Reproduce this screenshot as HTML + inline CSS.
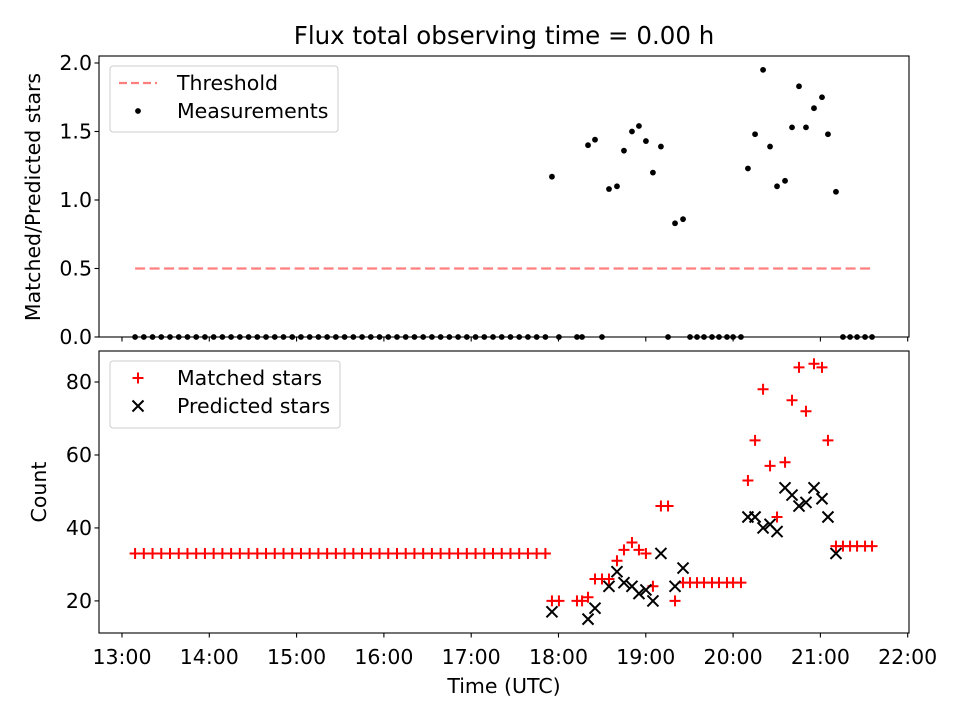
<!DOCTYPE html>
<html><head><meta charset="utf-8"><style>
body{margin:0;background:#fff;}
text{font-family:"DejaVu Sans","Liberation Sans",sans-serif;fill:#000;}
</style></head><body>
<svg id="chart" width="960" height="720" xmlns="http://www.w3.org/2000/svg">
<text x="504" y="44" font-size="24.5" text-anchor="middle">Flux total observing time = 0.00 h</text>
<g id="topPanel"></g>
<g id="botPanel"></g>
</svg>
<script>
// times in minutes after 13:00 UTC
const baseTimes=[9,15,21,27,33,39,45,51,57,63,69,75,81,87,93,99,105,111,117,123,129,135,141,147,153,159,165,171,177,183,189,195,201,207,213,219,225,231,237,243,249,255,261,267,273,279,285,291];
const laterTimes=[295.5,300.3,312.7,316.2,320.3,325.1,329.9,334.7,340.2,345,350.5,355.3,360.1,364.9,370.4,375.3,380.1,385.6,390.4,395.2,400,405.5,410.3,415.8,420,425.4,430.2,435.1,440.6,445.4,450.2,455.7,460.5,465.3,470.1,475.6,481.1,485.2,490.7,495.5,500.4,505.2,510.7,515.5];
const baseRatio=[0,0,0,0,0,0,0,0,0,0,0,0,0,0,0,0,0,0,0,0,0,0,0,0,0,0,0,0,0,0,0,0,0,0,0,0,0,0,0,0,0,0,0,0,0,0,0,0];
const baseMatched=[33,33,33,33,33,33,33,33,33,33,33,33,33,33,33,33,33,33,33,33,33,33,33,33,33,33,33,33,33,33,33,33,33,33,33,33,33,33,33,33,33,33,33,33,33,33,33,33];
const laterRatio=[1.17,0,0,0,1.40,1.44,0,1.08,1.10,1.36,1.50,1.54,1.43,1.20,1.39,0,0.83,0.86,0,0,0,0,0,0,0,0,1.23,1.48,1.95,1.39,1.10,1.14,1.53,1.83,1.53,1.67,1.75,1.48,1.06,0,0,0,0,0];
const laterMatched=[20,20,20,20,21,26,26,26,31,34,36,34,33,24,46,46,20,25,25,25,25,25,25,25,25,25,53,64,78,57,43,58,75,84,72,85,84,64,35,35,35,35,35,35];
const laterPredicted=[17,null,null,null,15,18,null,24,28,25,24,22,23,20,33,null,24,29,null,null,null,null,null,null,null,null,43,43,40,41,39,51,49,46,47,51,48,43,33,null,null,null,null,null];
const threshold=0.5;
const threshRange=[9,515.5];
const xTicks=[0,60,120,180,240,300,360,420,480,540];
const xTickLabels=["13:00","14:00","15:00","16:00","17:00","18:00","19:00","20:00","21:00","22:00"];
const topTicks=[0,0.5,1.0,1.5,2.0];
const botTicks=[20,40,60,80];

const NS="http://www.w3.org/2000/svg";
const L=99,R=909;
const xMin=-15.8,xMax=540.9;
const sx=t=>L+(t-xMin)/(xMax-xMin)*(R-L);
const T1=56,B1=337,T2=351,B2=633;
const syT=v=>B1-(v-0)/(2.051-0)*(B1-T1);
const syB=v=>B2-(v-11.2)/(88.5-11.2)*(B2-T2);
function mk(p,tag,a){const e=document.createElementNS(NS,tag);for(const k in a)e.setAttribute(k,a[k]);p.appendChild(e);return e;}
const topG=document.getElementById('topPanel'),botG=document.getElementById('botPanel');
const times=baseTimes.concat(laterTimes);
const ratio=baseRatio.concat(laterRatio);
const matched=baseMatched.concat(laterMatched);
const predicted=baseTimes.map(()=>null).concat(laterPredicted);
const FS='20.5';

function axes(g,T,B,sy,ticks,fmt,labels){
  xTicks.forEach((t,i)=>{const x=sx(t);
    const tk=mk(g,'line',{x1:x,x2:x,y1:B,y2:B+4.5,stroke:'#000','stroke-width':1.1});
    
    
    if(labels){const tx=mk(g,'text',{x:x,y:B+31,'font-size':FS,'text-anchor':'middle'});tx.textContent=xTickLabels[i];
      
      }
  });
  ticks.forEach(v=>{const y=sy(v);
    const tk=mk(g,'line',{x1:L-4.5,x2:L,y1:y,y2:y,stroke:'#000','stroke-width':1.1});
    
    
    const tx=mk(g,'text',{x:L-7,y:y+7,'font-size':FS,'text-anchor':'end'});tx.textContent=fmt(v);
    
    
  });
}
function frame(g,T,B){const r=mk(g,'rect',{x:L,y:T,width:R-L,height:B-T,fill:'none',stroke:'#000','stroke-width':1.1});
  
  }

// top panel
axes(topG,T1,B1,syT,topTicks,v=>v.toFixed(1),false);
const th=mk(topG,'line',{x1:sx(threshRange[0]),x2:sx(threshRange[1]),y1:syT(threshold),y2:syT(threshold),stroke:'#ff7f7f','stroke-width':2.2,'stroke-dasharray':'10,4.5'});


times.forEach((t,i)=>{const c=mk(topG,'circle',{cx:sx(t),cy:syT(ratio[i]),r:2.9,fill:'#000'});
  
  });
frame(topG,T1,B1);
const yl1=mk(topG,'text',{x:0,y:0,'font-size':FS,'text-anchor':'middle',transform:`translate(40,197) rotate(-90)`});yl1.textContent='Matched/Predicted stars';



// bottom panel
axes(botG,T2,B2,syB,botTicks,v=>String(v),true);
times.forEach((t,i)=>{const x=sx(t),y=syB(matched[i]);
  const p=mk(botG,'path',{d:`M${x-5.5},${y}H${x+5.5}M${x},${y-5.5}V${y+5.5}`,stroke:'#ff0000','stroke-width':2});
  
  });
times.forEach((t,i)=>{if(predicted[i]==null)return;const x=sx(t),y=syB(predicted[i]);
  const p=mk(botG,'path',{d:`M${x-5.5},${y-5.5}L${x+5.5},${y+5.5}M${x-5.5},${y+5.5}L${x+5.5},${y-5.5}`,stroke:'#000','stroke-width':2});
  
  });
frame(botG,T2,B2);
const yl2=mk(botG,'text',{x:0,y:0,'font-size':FS,'text-anchor':'middle',transform:`translate(46,492) rotate(-90)`});yl2.textContent='Count';


const xl=mk(botG,'text',{x:(L+R)/2,y:693,'font-size':FS,'text-anchor':'middle'});xl.textContent='Time (UTC)';



// legends
function legend(g,x,y,w,h,items){
  const lg=mk(g,'g',{});
  
  
  mk(lg,'rect',{x:x,y:y,width:w,height:h,rx:3,fill:'#fff',stroke:'#ccc','stroke-width':1});
  items.forEach((it,i)=>{const cy=y+17+i*28;const e=mk(lg,'g',{});
    
    
    it.draw(e,x+28,cy);
    const tx=mk(e,'text',{x:x+67,y:cy+7,'font-size':FS});tx.textContent=it.label;});
}
legend(topG,110,66,228,66,[
 {label:'Threshold',draw:(e,x,y)=>mk(e,'line',{x1:x-19,x2:x+19,y1:y,y2:y,stroke:'#ff7f7f','stroke-width':2.2,'stroke-dasharray':'8,4'})},
 {label:'Measurements',draw:(e,x,y)=>mk(e,'circle',{cx:x,cy:y,r:2.9,fill:'#000'})}]);
legend(botG,110,361,230,67,[
 {label:'Matched stars',draw:(e,x,y)=>mk(e,'path',{d:`M${x-5.5},${y}H${x+5.5}M${x},${y-5.5}V${y+5.5}`,stroke:'#f00','stroke-width':2})},
 {label:'Predicted stars',draw:(e,x,y)=>mk(e,'path',{d:`M${x-5.5},${y-5.5}L${x+5.5},${y+5.5}M${x-5.5},${y+5.5}L${x+5.5},${y-5.5}`,stroke:'#000','stroke-width':2})}]);
</script>
</body></html>
